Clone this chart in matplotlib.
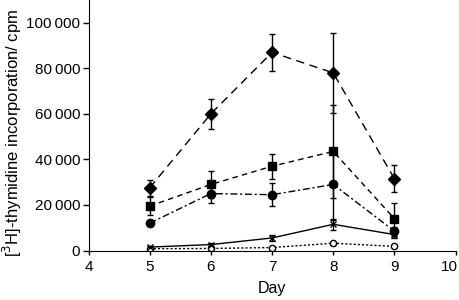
import numpy as np
import matplotlib
matplotlib.use('Agg')
import matplotlib.pyplot as plt
import matplotlib.transforms as mtransforms
from matplotlib.ticker import FuncFormatter

days = [5, 6, 7, 8, 9]

# mean counts and error for each group
diamond = [27500, 60000, 87000, 78000, 31500]
diamond_err = [3500, 6500, 8000, 17500, 6000]
square = [19500, 29000, 37000, 43500, 14000]
square_err = [4000, 6000, 5500, 20500, 7000]
circle = [12000, 25000, 24500, 29000, 8500]
circle_err = [1000, 4000, 5000, 15500, 2000]
cross = [1500, 2600, 5500, 11500, 7000]
cross_err = [500, 800, 1500, 2500, 1500]
open_circ = [800, 900, 1300, 3200, 1800]
open_err = [300, 300, 400, 600, 400]

plt.rcParams['font.family'] = ['Liberation Sans', 'DejaVu Sans']
plt.rcParams['font.size'] = 11

fig = plt.figure(figsize=(4.6, 3.0), dpi=100)
ax = fig.add_axes([0.1924, 0.165, 0.798, 0.835])

kw = dict(color='black', capsize=2.5, elinewidth=1.0, capthick=1.0, linewidth=1.0)
ax.errorbar(days, open_circ, yerr=open_err, fmt='o', linestyle=(0, (1.5, 1.5)),
            markerfacecolor='white', markersize=4.5, **kw)
ax.errorbar(days, cross, yerr=cross_err, fmt='x', linestyle='-', markersize=5, **kw)
ax.errorbar(days, circle, yerr=circle_err, fmt='o', linestyle=(0, (5, 2, 1.5, 2)),
            markersize=6, **kw)
ax.errorbar(days, square, yerr=square_err, fmt='s', linestyle=(0, (4, 3)),
            markersize=6, **kw)
ax.errorbar(days, diamond, yerr=diamond_err, fmt='D', linestyle=(0, (6, 4)),
            markersize=6.5, **kw)

ax.set_xlim(4, 10)
ax.set_ylim(0, 110000)
ax.set_xticks([4, 5, 6, 7, 8, 9, 10])
ax.set_yticks([0, 20000, 40000, 60000, 80000, 100000])
ax.yaxis.set_major_formatter(FuncFormatter(
    lambda v, p: '0' if v == 0 else f'{int(v):,}'.replace(',', '\u2009')))

for s in ['top', 'right']:
    ax.spines[s].set_visible(False)
ax.tick_params(axis='y', direction='out', length=4, width=1, pad=2)
ax.tick_params(axis='x', direction='out', length=3, width=1, pad=4)
ax.set_xlabel('Day', fontsize=11.5, labelpad=5)
ax.set_ylabel(r'[$^3$H]-thymidine incorporation/ cpm', fontsize=12, labelpad=2)
ax.yaxis.set_label_coords(-0.175, 0.47)

# the last x label sits a little inside the figure edge
fig.canvas.draw()
last = ax.get_xticklabels()[-1]
last.set_transform(last.get_transform() +
                   mtransforms.ScaledTranslation(-6 / 100, 0, fig.dpi_scale_trans))

fig.savefig('out.png', dpi=100)
